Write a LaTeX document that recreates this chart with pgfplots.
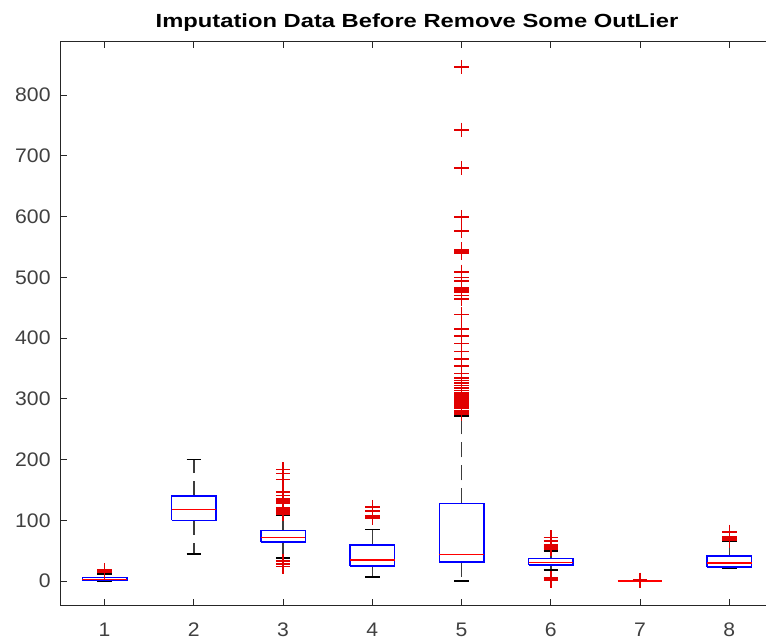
\documentclass[border=0pt]{standalone}
\usepackage{pgfplots}
\pgfplotsset{compat=1.18}
\usepackage{fontspec}
\setmainfont{Liberation Sans}
\newfontfamily\tickfont[FakeStretch=1.08]{Liberation Sans}
\newfontfamily\titlefont[FakeStretch=1.25]{Liberation Sans}
\definecolor{axgray}{RGB}{38,38,38}
\definecolor{tgray}{RGB}{64,64,64}
\definecolor{wgray}{RGB}{60,60,60}
\definecolor{mred}{RGB}{225,0,0}
\begin{document}
\begin{tikzpicture}
\begin{axis}[
  at={(0,0)}, anchor=south west,
  scale only axis, width=357pt, height=282.5pt,
  xmin=0.5, xmax=8.5, ymin=-41, ymax=889,
  xtick={1,2,3,4,5,6,7,8}, ytick={0,100,...,800},
  tick align=inside, xtick pos=both, ytick pos=both,
  major tick length=3.5pt,
  axis line style={axgray, line width=0.5pt},
  tick style={axgray, line width=0.5pt},
  /pgf/number format/assume math mode=true,
  ticklabel style={font=\tickfont\fontsize{9.8}{12}\selectfont, text=tgray},
  xticklabel style={yshift=-5pt},
  yticklabel style={xshift=-1.2pt},
  title={Imputation Data Before Remove Some OutLier},
  title style={font=\titlefont\bfseries\fontsize{9.5}{12}\selectfont, text=black, yshift=-4.8pt},
  unbounded coords=jump,
]
% whiskers (dashed)
\addplot[wgray, line width=0.8pt, dash pattern=on 7.5pt off 4pt] coordinates {
 (1,6)(1,12) (nan,nan) (1,1)(1,0) (nan,nan)
 (2,140)(2,200) (nan,nan) (2,100)(2,45) (nan,nan)
 (3,83)(3,108) (nan,nan) (3,64)(3,38) (nan,nan)
 (4,59)(4,85) (nan,nan) (4,25)(4,7) (nan,nan)
 (5,128)(5,272) (nan,nan) (5,31)(5,0) (nan,nan)
 (6,37)(6,50) (nan,nan) (6,26)(6,18) (nan,nan)
 (8,41)(8,65) (nan,nan) (8,23.5)(8,21)
};
% whisker caps
\addplot[black, line width=0.8pt] coordinates {
 (0.9175,12)(1.0825,12) (nan,nan) (0.9175,0)(1.0825,0) (nan,nan)
 (1.9175,200)(2.0825,200) (nan,nan) (1.9175,45)(2.0825,45) (nan,nan)
 (2.9175,108)(3.0825,108) (nan,nan) (2.9175,38)(3.0825,38) (nan,nan)
 (3.9175,85)(4.0825,85) (nan,nan) (3.9175,7)(4.0825,7) (nan,nan)
 (4.9175,272)(5.0825,272) (nan,nan) (4.9175,0)(5.0825,0) (nan,nan)
 (5.9175,50)(6.0825,50) (nan,nan) (5.9175,18)(6.0825,18) (nan,nan)
 (6.9175,0)(7.0825,0) (nan,nan)
 (7.9175,65)(8.0825,65) (nan,nan) (7.9175,21)(8.0825,21)
};
% boxes
\addplot[blue, line width=0.8pt] coordinates {
 (0.75,1)(1.25,1)(1.25,6)(0.75,6)(0.75,1) (nan,nan)
 (1.75,100)(2.25,100)(2.25,140)(1.75,140)(1.75,100) (nan,nan)
 (2.75,64)(3.25,64)(3.25,83)(2.75,83)(2.75,64) (nan,nan)
 (3.75,25)(4.25,25)(4.25,59)(3.75,59)(3.75,25) (nan,nan)
 (4.75,31)(5.25,31)(5.25,128)(4.75,128)(4.75,31) (nan,nan)
 (5.75,26)(6.25,26)(6.25,37)(5.75,37)(5.75,26) (nan,nan)
 (6.75,0)(7.25,0) (nan,nan)
 (7.75,23.5)(8.25,23.5)(8.25,41)(7.75,41)(7.75,23.5)
};
% medians
\addplot[red, line width=0.7pt] coordinates {
 (0.75,3)(1.25,3) (nan,nan)
 (1.75,118)(2.25,118) (nan,nan)
 (2.75,72)(3.25,72) (nan,nan)
 (3.75,35)(4.25,35) (nan,nan)
 (4.75,44)(5.25,44) (nan,nan)
 (5.75,31)(6.25,31) (nan,nan)
 (6.75,0)(7.25,0) (nan,nan)
 (7.75,30)(8.25,30)
};
% outliers
\addplot[mred, only marks, mark=+, mark size=3.6pt, mark options={mred, line width=0.8pt}] coordinates {
 (1,14)(1,16)(1,18)
 (3,24)(3,28)(3,33)(3,110)(3,112)(3,114)(3,116)(3,118)(3,120)(3,128)(3,130)(3,132)(3,134)(3,136)(3,141)(3,147)(3,167)(3,177)(3,184)
 (4,104)(4,106)(4,108)(4,115)(4,122)
 (5,275)(5,278)(5,281)(5,284)(5,287)(5,290)(5,293)(5,296)(5,300)(5,303)(5,306)(5,310)(5,314)(5,318)(5,322)(5,326)(5,330)(5,334)(5,342)(5,354)(5,366)(5,378)(5,391)(5,403)(5,415)(5,439)(5,464)(5,470)(5,476)(5,479)(5,482)(5,494)(5,500)(5,509)(5,540)(5,543)(5,546)(5,576)(5,599)(5,680)(5,743)(5,846)
 (6,1)(6,3)(6,5)(6,53)(6,55)(6,56)(6,58)(6,60)(6,66)(6,72)
 (7,1)(7,2)
 (8,67)(8,69)(8,71)(8,73)(8,81)
};
\end{axis}
\pgfresetboundingbox
\path[use as bounding box] (-30pt,-18pt) rectangle (353pt,303pt);
\end{tikzpicture}
\end{document}
